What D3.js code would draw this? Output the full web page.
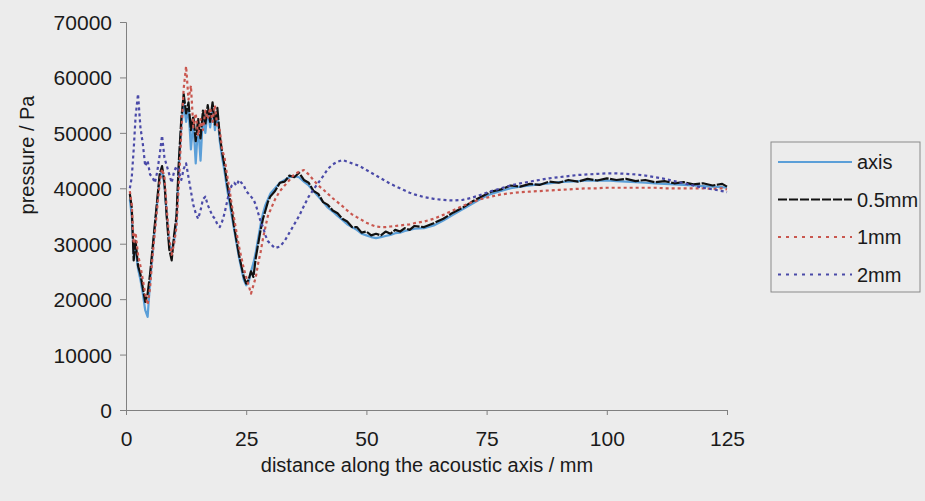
<!DOCTYPE html>
<html>
<head>
<meta charset="utf-8">
<script src="https://cdn.jsdelivr.net/npm/d3@7/dist/d3.min.js"></script>
<style>
  html, body { margin: 0; padding: 0; background: #ececec; }
  svg { display: block; }
  text { font-family: "Liberation Sans", Arial, sans-serif; fill: #1a1a1a; }
</style>
</head>
<body>
<svg id="chart" width="925" height="501"></svg>
<script>
// Sample positions along the acoustic axis (mm)
const distance = [
  0.8, 1.2, 1.6, 2.0, 2.5, 3.0, 3.5, 4.0, 4.5, 5.0, 5.5, 6.0, 6.5, 7.0, 7.5, 8.0, 8.5, 9.0, 9.5, 10.0,
  10.5, 11.0, 11.5, 12.0, 12.5, 13.0, 13.5, 14.0, 14.5, 15.0, 15.5, 16.0, 16.5, 17.0, 17.5, 18.0, 18.5, 19.0, 19.5, 20.0,
  20.5, 21.0, 21.5, 22.0, 22.5, 23.0, 23.5, 24.0, 24.5, 25.0, 25.5, 26.0, 26.5, 27.0, 27.5, 28.0, 28.5, 29.0, 29.5, 30.0,
  31, 32, 33, 34, 35, 36, 37, 38, 39, 40, 41, 42, 43, 44, 45, 46, 47, 48, 49, 50,
  51, 52, 53, 54, 55, 56, 57, 58, 59, 60,
  62, 64, 66, 68, 70, 72, 74, 76, 78, 80, 82, 84, 86, 88, 90, 92, 94, 96, 98, 100,
  102, 104, 106, 108, 110, 112, 114, 116, 118, 120, 122, 124, 125
];

// Pressure (Pa) measured on the axis
const pAxis = [
  38000, 35000, 28000, 29000, 25500, 23500, 21000, 18000, 16800, 23000, 28000, 33000, 37500, 42000, 43500, 40500, 35000, 30000, 28500, 30500,
  34000, 44000, 51000, 55500, 52000, 54500, 47000, 52000, 44500, 51500, 45000, 53000, 50000, 54000, 51000, 54500, 50500, 53500, 48500, 45500,
  43000, 40000, 37500, 35000, 32500, 30000, 27500, 25500, 23500, 22500, 23000, 25000, 26500, 28500, 31000, 33500, 35500, 37000, 38000, 39000,
  40000, 41000, 41500, 42000, 42200, 42000, 41200, 40500, 39500, 38500, 37500, 36500, 35800, 35000, 34300, 33500, 33000, 32500, 31800, 31500,
  31200, 31000, 31200, 31400, 31600, 31900, 32000, 32300, 32500, 32700,
  32800, 33300, 34200, 35200, 36200, 37200, 38200, 39000, 39500, 40000, 40300, 40500, 40700, 40900, 41100, 41200, 41300, 41400, 41400, 41400,
  41300, 41200, 41100, 41000, 40900, 40800, 40700, 40600, 40500, 40400, 40300, 40200, 40100
];

// Pressure (Pa) at 0.5 mm off axis
const p05mm = [
  39000, 36500, 27000, 30500, 26000, 24500, 22000, 19500, 21000, 24500, 29000, 33500, 38000, 42500, 44000, 41000, 34500, 29000, 27000, 31500,
  35000, 45000, 52500, 57000, 53500, 55500, 50500, 53000, 48500, 52500, 49000, 54000, 51500, 55000, 52000, 55500, 51500, 54500, 49500, 46500,
  44000, 41000, 38500, 36000, 33000, 30500, 28000, 26000, 24000, 22800, 23500, 25000, 24000, 27500, 30000, 32500, 34500, 36000, 37500, 38500,
  39500, 41000, 41200, 42300, 42000, 42800, 41500, 41000, 39500, 39000, 37500, 37000, 36000, 35500, 34500, 34000, 33000, 33000, 32000, 32200,
  31500, 31800, 31500, 32200, 31800, 32500, 32200, 32800, 32500, 33200,
  33000, 33700, 34500, 35600, 36500, 37600, 38500, 39400, 39800, 40500, 40300, 40800, 40600, 41200, 41000, 41500, 41200, 41700, 41400, 41800,
  41500, 41700, 41300, 41500, 41100, 41300, 40900, 41100, 40700, 40900, 40500, 40800, 40300
];

// Pressure (Pa) at 1 mm off axis
const p1mm = [
  39500, 37000, 30000, 32000, 28000, 26000, 23500, 21000, 19000, 22000, 27500, 32000, 36500, 41000, 43500, 42000, 36000, 31000, 28000, 30000,
  33000, 41000, 50000, 58000, 62000, 56000, 58500, 51000, 53500, 49500, 52500, 50500, 54000, 52500, 54500, 52000, 55000, 51000, 50500, 47000,
  45500, 42500, 40000, 37000, 34500, 32000, 29500, 27500, 25500, 24000, 22500, 21000, 22500, 24000, 26500, 28500, 31000, 33000, 35000, 36000,
  38000, 39500, 40500, 41500, 42500, 43000, 43300, 42500, 41500, 40500, 39800, 39000, 38200, 37500, 36800, 36000, 35300, 34800, 34300, 33800,
  33400, 33100, 33000, 33000, 33100, 33200, 33300, 33400, 33500, 33700,
  34000, 34500, 35200, 36000, 36800, 37500, 38100, 38500, 38900, 39100, 39300, 39400, 39500, 39600, 39700, 39800, 39900, 40000, 40000, 40100,
  40100, 40100, 40100, 40100, 40100, 40000, 40000, 40000, 40000, 40000, 39900, 40000, 39800
];

// Pressure (Pa) at 2 mm off axis
const p2mm = [
  40000, 42000, 47000, 53000, 57000, 51000, 48000, 44000, 45000, 42500, 42000, 41000, 43000, 46000, 49500, 45500, 44000, 42500, 41000, 43000,
  44000, 43000, 41500, 43500, 44500, 42000, 39500, 37000, 35500, 34500, 36000, 38000, 38500, 37000, 36000, 35000, 34500, 33500, 33000, 34000,
  35500, 37500, 39500, 40500, 41000, 40500, 41500, 41000, 40500, 39500, 39000, 38500, 38000, 37000, 35500, 34000, 33000, 31500, 30500, 30000,
  29200, 29500, 30500, 32000, 33500, 35000, 36800, 38500, 39800, 41000, 42200, 43500, 44300, 44800, 45100, 44800, 44500, 44200, 43800, 43300,
  42800, 42300, 41800, 41300, 40800, 40400, 40000, 39600, 39200, 38900,
  38400, 38100, 37900, 37800, 37900, 38300, 38900, 39500, 40000, 40500, 40900, 41200, 41500, 41800, 42000, 42200, 42400, 42500, 42600, 42700,
  42700, 42600, 42500, 42300, 42000, 41700, 41300, 40900, 40500, 40100, 39800, 39500, 39300
];

const seriesNames = ["axis", "0.5mm", "1mm", "2mm"];
const seriesValues = [pAxis, p05mm, p1mm, p2mm];
const xTicks = [0, 25, 50, 75, 100, 125];
const yTicks = [0, 10000, 20000, 30000, 40000, 50000, 60000, 70000];

// Line styles for the plot area and for the legend keys
const styles = [
  { color: "#5b9fd8", dash: null, keyDash: null, width: 2.2 },
  { color: "#111111", dash: "14,1.5", keyDash: "9,2", width: 2.2 },
  { color: "#c9574f", dash: "3,3", keyDash: "3,5", width: 2.2 },
  { color: "#4a4aa8", dash: "3,3", keyDash: "3,5", width: 2.2 }
];

const svg = d3.select("#chart");
const x = d3.scaleLinear().domain([0, 125]).range([126, 727]);
const y = d3.scaleLinear().domain([0, 70000]).range([410, 22]);

// Axes
const axisColor = "#808080";
const yAxis = svg.append("g").attr("transform", "translate(126,0)")
  .call(d3.axisLeft(y).tickValues(yTicks).tickFormat(d3.format("d")).tickSize(6).tickPadding(8));
const xAxis = svg.append("g").attr("transform", "translate(0,410)")
  .call(d3.axisBottom(x).tickValues(xTicks).tickFormat(d3.format("d")).tickSize(5).tickPadding(16));
[yAxis, xAxis].forEach(g => {
  g.select(".domain").attr("stroke", axisColor).attr("stroke-width", 1);
  g.selectAll(".tick line").attr("stroke", axisColor);
  g.selectAll(".tick text").style("font-size", "21px").attr("fill", "#1a1a1a")
    .style("font-family", '"Liberation Sans", Arial, sans-serif');
});
yAxis.selectAll(".tick text").attr("dy", "0.36em");

// Axis titles
svg.append("text")
  .attr("x", 427).attr("y", 472)
  .attr("text-anchor", "middle")
  .style("font-size", "20px")
  .text("distance along the acoustic axis / mm");
svg.append("text")
  .attr("transform", "translate(34,155) rotate(-90)")
  .attr("text-anchor", "middle")
  .style("font-size", "20px")
  .text("pressure / Pa");

// Series lines
const line = d3.line().x(d => x(d[0])).y(d => y(d[1]));
seriesValues.forEach((vals, i) => {
  const pts = distance.map((d, j) => [d, vals[j]]);
  svg.append("path")
    .datum(pts)
    .attr("fill", "none")
    .attr("stroke", styles[i].color)
    .attr("stroke-width", styles[i].width)
    .attr("stroke-dasharray", styles[i].dash)
    .attr("stroke-linejoin", "round")
    .attr("d", line);
});

// Legend
const legend = svg.append("g");
legend.append("rect")
  .attr("x", 771).attr("y", 142).attr("width", 149).attr("height", 150)
  .attr("fill", "#ececec").attr("stroke", "#8a8a8a").attr("stroke-width", 1);
seriesNames.forEach((name, i) => {
  const ly = 162 + i * 37.5;
  legend.append("line")
    .attr("x1", 778).attr("x2", 852).attr("y1", ly).attr("y2", ly)
    .attr("stroke", styles[i].color)
    .attr("stroke-width", 2)
    .attr("stroke-dasharray", styles[i].keyDash);
  legend.append("text")
    .attr("x", 857).attr("y", ly).attr("dy", "0.36em")
    .style("font-size", "20px")
    .text(name);
});
</script>
</body>
</html>
